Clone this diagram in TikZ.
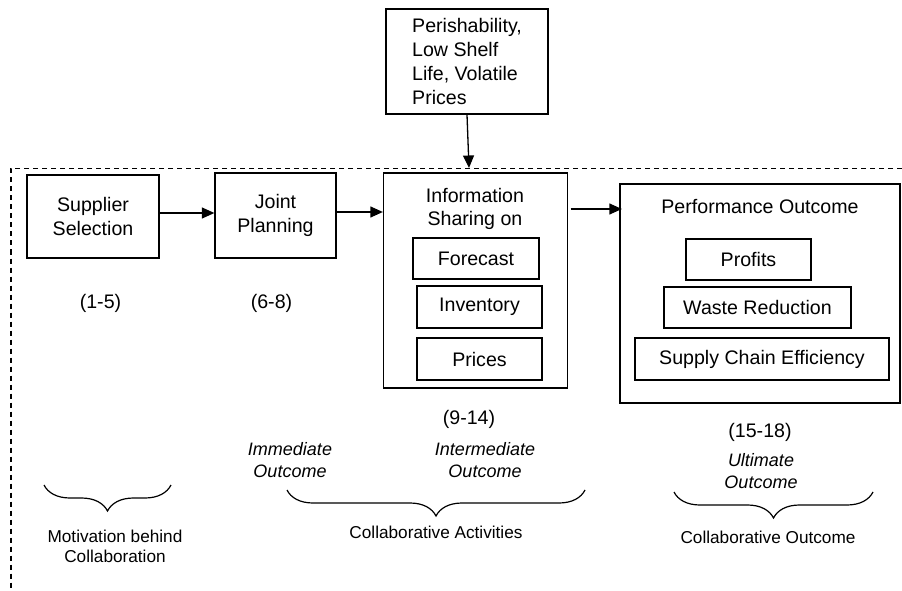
\documentclass[tikz,border=0pt]{standalone}
\usepackage{fontspec}
\setmainfont{Liberation Sans}
\usetikzlibrary{arrows.meta,decorations.pathreplacing}
\begin{document}
\begin{tikzpicture}[x=1pt,y=-1pt,
  box/.style={draw, line width=1.3pt, inner sep=0pt, align=center, font=\fontsize{19.6}{23.7}\selectfont},
  txt/.style={inner sep=0pt, align=center, font=\fontsize{19.6}{23.7}\selectfont},
  ital/.style={inner sep=0pt, align=center, font=\fontsize{18}{22}\selectfont\itshape},
  small/.style={inner sep=0pt, align=center, font=\fontsize{17.2}{20}\selectfont},
  arr/.style={line width=1.3pt, -{Triangle[length=12.5pt,width=11pt]}},
  brc/.style={line width=1.2pt, decorate, decoration={brace, mirror, amplitude=26pt}},
  border/.style={line width=1.2pt, dash pattern=on 5pt off 4pt}]
\useasboundingbox (0,0) rectangle (902,591);

% dashed boundary
\coordinate (bR) at (902,168.5);
\coordinate (bC) at (11,168.5);
\coordinate (bB) at (11,591);
\draw[border] (bR) -- (bC) -- (bB);

% external factor
\node[box, align=left, minimum width=162pt, minimum height=105pt] (pers) at (467,61.5)
  {Perishability,\\Low Shelf\\Life, Volatile\\Prices};
\coordinate (hit) at (469,168);
\draw[arr] (pers.south) -- (hit);

% main boxes
\node[box, minimum width=132pt, minimum height=83pt] (ss) at (93,216.5) {Supplier\\Selection};
\node[box, minimum width=121pt, minimum height=85pt] (jp) at (275.5,215.5) {Joint\\Planning};

\node[box, minimum width=184pt, minimum height=215pt] (info) at (475.5,280.5) {};
\node[txt] (infot) at (475,209) {Information\\Sharing on};
\node[box, minimum width=126pt, minimum height=41pt] (fc) at (476,258.5) {Forecast};
\node[box, minimum width=125pt, minimum height=42pt] (inv) at (479.5,307) {Inventory};
\node[box, minimum width=125pt, minimum height=42pt] (pr) at (479.5,359) {Prices};

\node[box, minimum width=280pt, minimum height=219pt] (perf) at (760,293.5) {};
\node[txt] (perft) at (760,207) {Performance Outcome};
\node[box, minimum width=125pt, minimum height=41pt] (prof) at (748.5,259.5) {Profits};
\node[box, minimum width=187pt, minimum height=41pt] (waste) at (757.5,307.5) {Waste Reduction};
\node[box, minimum width=254pt, minimum height=42pt] (sce) at (762,359) {Supply Chain Efficiency};

% arrows
\draw[arr] ([yshift=3.5pt]ss.east) -- ([yshift=3.5pt]ss.east -| jp.west);
\draw[arr] ([yshift=3.5pt]jp.east) -- ([yshift=3.5pt]jp.east -| info.west);
\draw[arr] ([xshift=2.5pt,yshift=71.5pt]info.east) -- ([xshift=2.5pt,yshift=71.5pt]info.east -| perf.west);

% item numbers
\node[txt] (n1) at (100.5,303) {(1-5)};
\node[txt] (n2) at (271.5,303) {(6-8)};
\node[txt] (n3) at (469,419) {(9-14)};
\node[txt] (n4) at (760,432) {(15-18)};

% outcome labels
\node[ital] (imm) at (290,460) {Immediate\\Outcome};
\node[ital] (int) at (485,460) {Intermediate\\Outcome};
\node[ital] (ult) at (761,471) {Ultimate\\Outcome};

% braces
\coordinate (b1l) at (44,485);
\coordinate (b1r) at (171,485);
\draw[brc] (b1l) -- (b1r);
\coordinate (b2l) at (287,490);
\coordinate (b2r) at (585,490);
\draw[brc] (b2l) -- (b2r);
\coordinate (b3l) at (674,492);
\coordinate (b3r) at (873,492);
\draw[brc] (b3l) -- (b3r);

% group labels
\node[small] (g1) at (115,546) {Motivation behind\\Collaboration};
\node[small] (g2) at (436,532) {Collaborative Activities};
\node[small] (g3) at (768,537) {Collaborative Outcome};
\end{tikzpicture}
\end{document}
